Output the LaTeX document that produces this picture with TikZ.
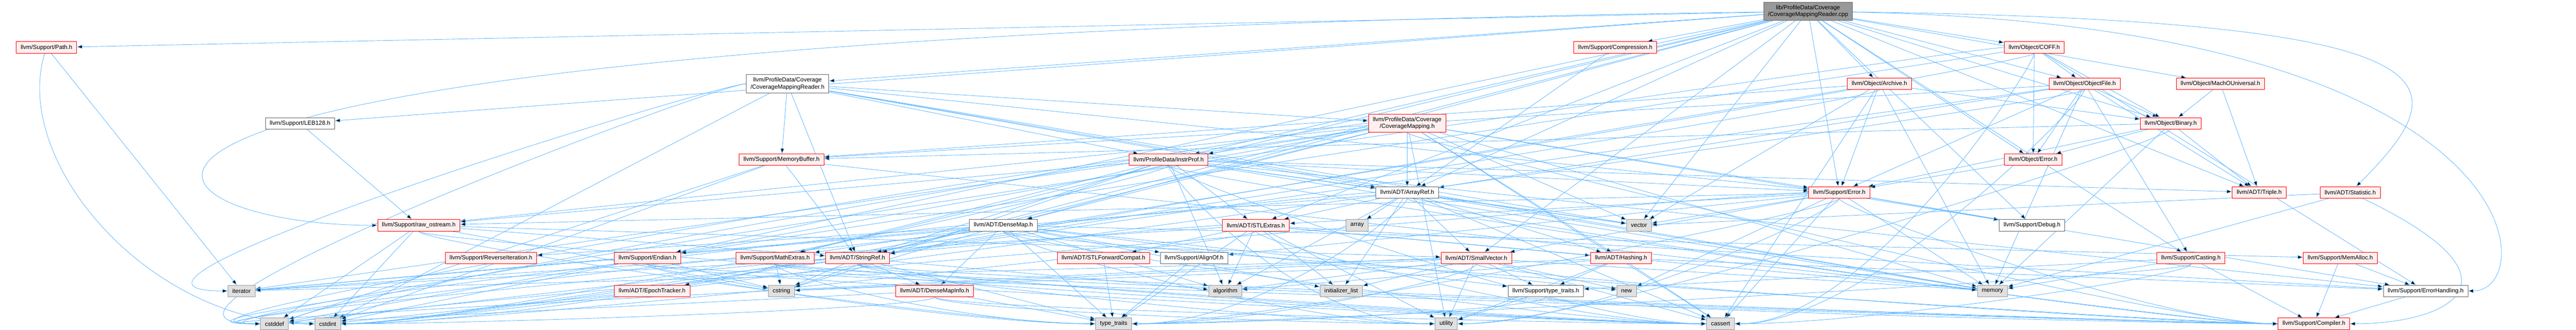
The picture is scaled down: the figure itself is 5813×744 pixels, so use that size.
\documentclass[tikz,border=0pt]{standalone}
\usepackage{fontspec}
\setmainfont{Liberation Sans}
\usetikzlibrary{arrows.meta,backgrounds}

\definecolor{edgeblue}{HTML}{63B8FF}
\definecolor{redfill}{HTML}{FFF0F0}
\definecolor{sysfill}{HTML}{E0E0E0}
\definecolor{sysline}{HTML}{999999}
\definecolor{plainline}{HTML}{666666}
\definecolor{topfill}{HTML}{999999}

\tikzset{
  file/.style={rectangle, inner xsep=7.4pt, inner ysep=2pt, minimum height=19.5pt,
    line width=0.75pt, font=\fontsize{10pt}{11.5pt}\selectfont, align=center},
  redbox/.style={file, draw=red, fill=redfill},
  plainbox/.style={file, draw=plainline, fill=white},
  sysbox/.style={file, draw=sysline, fill=sysfill},
  topbox/.style={file, draw=plainline, fill=topfill, minimum height=31pt},
  twoline/.style={minimum height=31pt},
  dep/.style={draw=edgeblue, line width=0.75pt, -{Stealth[length=9, width=6.5, inset=0]}},
  via/.style={to path={.. controls #1 .. (\tikztotarget)}},
  fromright/.style={via={+(0,40) and +(333,0)}},
  fromleft/.style={via={+(0,40) and +(-333,0)}},
  wrapleft/.style={via={+(-160,0) and +(-450,0)}}
}

\begin{document}
\begin{tikzpicture}[x=0.75pt, y=-0.75pt]
\useasboundingbox (0,0) rectangle (5813,744);

\node[topbox] (cmrcpp) at (4080,25.5) {lib/ProfileData/Coverage\\/CoverageMappingReader.cpp};

\node[redbox] (path) at (105,107) {llvm/Support/Path.h};
\node[redbox] (compression) at (3645,107) {llvm/Support/Compression.h};
\node[redbox] (coff) at (4590.5,107) {llvm/Object/COFF.h};

\node[plainbox, twoline] (cmrh) at (1777,189) {llvm/ProfileData/Coverage\\/CoverageMappingReader.h};
\node[redbox] (archive) at (4241,189) {llvm/Object/Archive.h};
\node[redbox] (objfile) at (4704,189) {llvm/Object/ObjectFile.h};
\node[redbox] (macho) at (5010.5,189) {llvm/Object/MachOUniversal.h};

\node[plainbox] (leb) at (677,278) {llvm/Support/LEB128.h};
\node[redbox, twoline] (cmh) at (3175.5,278) {llvm/ProfileData/Coverage\\/CoverageMapping.h};
\node[redbox] (binary) at (4898.5,278) {llvm/Object/Binary.h};

\node[redbox] (membuf) at (1763.5,360) {llvm/Support/MemoryBuffer.h};
\node[redbox] (instrprof) at (2637,360) {llvm/ProfileData/InstrProf.h};
\node[redbox] (objerror) at (4588,360) {llvm/Object/Error.h};

\node[plainbox] (arrayref) at (3175.5,434) {llvm/ADT/ArrayRef.h};
\node[redbox] (error) at (4150.5,434) {llvm/Support/Error.h};
\node[redbox] (triple) at (5098,434) {llvm/ADT/Triple.h};
\node[redbox] (statistic) at (5303.5,434) {llvm/ADT/Statistic.h};

\node[redbox] (rawos) at (945,508) {llvm/Support/raw\_ostream.h};
\node[plainbox] (densemap) at (2264,508) {llvm/ADT/DenseMap.h};
\node[redbox] (stlextras) at (2834,508) {llvm/ADT/STLExtras.h};
\node[sysbox] (array) at (3062.5,508) {array};
\node[sysbox] (vector) at (3698.5,508) {vector};
\node[plainbox] (debug) at (4585.5,508) {llvm/Support/Debug.h};

\node[redbox] (reviter) at (1108,582) {llvm/Support/ReverseIteration.h};
\node[redbox] (endian) at (1461,582) {llvm/Support/Endian.h};
\node[redbox] (mathext) at (1749,582) {llvm/Support/MathExtras.h};
\node[redbox] (stringref) at (1935,582) {llvm/ADT/StringRef.h};
\node[redbox] (stlfwd) at (2490,582) {llvm/ADT/STLForwardCompat.h};
\node[plainbox] (alignof) at (2694.5,582) {llvm/Support/AlignOf.h};
\node[redbox] (smallvec) at (3331.5,582) {llvm/ADT/SmallVector.h};
\node[redbox] (hashing) at (3658,582) {llvm/ADT/Hashing.h};
\node[redbox] (casting) at (4944,582) {llvm/Support/Casting.h};
\node[redbox] (memalloc) at (5281,582) {llvm/Support/MemAlloc.h};

\node[sysbox] (iterator) at (545,656) {iterator};
\node[redbox] (epoch) at (1471.5,656) {llvm/ADT/EpochTracker.h};
\node[sysbox] (cstring) at (1763.5,656) {cstring};
\node[redbox] (densemapinfo) at (2109,656) {llvm/ADT/DenseMapInfo.h};
\node[sysbox] (algorithm) at (2765,656) {algorithm};
\node[sysbox] (initlist) at (3026.5,656) {initializer\_list};
\node[plainbox] (supptt) at (3488,656) {llvm/Support/type\_traits.h};
\node[sysbox] (new) at (3670.5,656) {new};
\node[sysbox] (memory) at (4496,656) {memory};
\node[plainbox] (errhandling) at (5473.5,656) {llvm/Support/ErrorHandling.h};

\node[sysbox] (cstddef) at (619.5,730) {cstddef};
\node[sysbox] (cstdint) at (739.5,730) {cstdint};
\node[sysbox] (typetraits) at (2513,730) {type\_traits};
\node[sysbox] (utility) at (3263.5,730) {utility};
\node[sysbox] (cassert) at (3882.5,730) {cassert};
\node[redbox] (compiler) at (5221.5,730) {llvm/Support/Compiler.h};

\begin{scope}[on background layer]
\path[dep] (cmrcpp) edge (cmrh) edge (arrayref) edge (densemap) edge (stlextras)
  edge (smallvec) edge[via={+(1500,20) and +(250,-250)}] (statistic) edge (stringref)
  edge (triple) edge (archive) edge (binary) edge (coff) edge (objerror) edge (macho)
  edge (objfile) edge (instrprof) edge (casting) edge (compression) edge (debug)
  edge (endian) edge (error) edge[via={+(1650,30) and +(260,0)}] (errhandling)
  edge (leb) edge (mathext) edge (path)
  edge[via={+(-4300,60) and +(-700,0)}] (rawos) edge (vector);
\path[dep] (cmrh) edge (arrayref) edge (stringref) edge (cmh) edge (instrprof)
  edge (error) edge (membuf) edge[wrapleft] (cstddef) edge (cstdint)
  edge[wrapleft] (iterator) edge (memory) edge (vector);
\path[dep] (cmh) edge (arrayref) edge (densemap) edge (hashing) edge (stringref)
  edge (instrprof) edge[fromleft] (compiler) edge (debug) edge (endian) edge (error)
  edge (rawos) edge (cassert) edge[wrapleft] (cstdint) edge (iterator) edge (memory)
  edge (utility) edge (vector);
\path[dep] (instrprof) edge (arrayref) edge (stlextras) edge (stringref) edge (triple)
  edge[fromleft] (compiler) edge (error) edge (errhandling) edge (mathext) edge (rawos)
  edge (algorithm) edge[fromleft] (cassert) edge[wrapleft] (cstddef)
  edge[fromright] (cstdint) edge (cstring) edge (memory) edge[fromleft] (utility)
  edge (vector);
\path[dep] (membuf) edge (stringref) edge (cstddef) edge (cstdint) edge (memory);
\path[dep] (arrayref) edge (hashing) edge (smallvec) edge (stlextras)
  edge[fromleft] (compiler) edge (algorithm) edge (array) edge (cassert)
  edge[wrapleft] (cstddef) edge (initlist) edge (iterator) edge (memory)
  edge[fromright] (typetraits) edge (vector);
\path[dep] (error) edge (stlextras) edge (smallvec) edge (alignof) edge[fromleft] (compiler)
  edge (debug) edge (errhandling) edge (rawos) edge (cassert) edge[wrapleft] (cstdint)
  edge (memory) edge (new) edge[fromright] (typetraits) edge[fromright] (utility)
  edge (vector);
\path[dep] (rawos) edge (stringref) edge (smallvec) edge[fromleft] (cassert)
  edge (cstddef) edge (cstdint) edge (cstring) edge[fromleft] (typetraits);
\path[dep] (densemap) edge (densemapinfo) edge (epoch) edge (alignof)
  edge[fromleft] (compiler) edge (mathext) edge (memalloc) edge (reviter) edge (supptt)
  edge (algorithm) edge[fromleft] (cassert) edge[wrapleft] (cstddef) edge (cstring)
  edge (initlist) edge (iterator) edge (new) edge (typetraits) edge[fromleft] (utility);
\path[dep] (stlextras) edge (hashing) edge (stlfwd) edge (errhandling) edge (algorithm)
  edge[fromleft] (cassert) edge[wrapleft] (cstddef) edge[fromright] (cstdint)
  edge (initlist) edge (iterator) edge (memory) edge (typetraits) edge (utility);
\path[dep] (smallvec) edge[fromleft] (compiler) edge (supptt) edge (algorithm)
  edge (cassert) edge[wrapleft] (cstddef) edge (cstring) edge (initlist) edge (iterator)
  edge (memory) edge (new) edge[fromright] (typetraits) edge (utility);
\path[dep] (hashing) edge (errhandling) edge (supptt) edge (algorithm) edge (cassert)
  edge (cstring) edge (utility);
\path[dep] (stringref) edge (densemapinfo) edge[fromleft] (compiler) edge (algorithm)
  edge[fromleft] (cassert) edge (cstddef) edge (cstring) edge (iterator)
  edge (typetraits) edge[fromleft] (utility);
\path[dep] (densemapinfo) edge[fromleft] (cassert) edge (cstddef)
  edge[fromright] (cstdint) edge (typetraits) edge[fromleft] (utility);
\path[dep] (epoch) edge (cstdint);
\path[dep] (endian) edge[fromleft] (compiler) edge[fromleft] (cassert) edge (cstddef)
  edge (cstdint) edge (cstring) edge[fromleft] (typetraits);
\path[dep] (mathext) edge[fromleft] (compiler) edge[fromleft] (cassert)
  edge[fromright] (cstdint) edge (cstring) edge[fromleft] (typetraits);
\path[dep] (stlfwd) edge (typetraits);
\path[dep] (alignof) edge (typetraits);
\path[dep] (supptt) edge[fromleft] (compiler) edge[fromright] (typetraits) edge (utility);
\path[dep] (casting) edge (compiler) edge (supptt) edge[fromright] (cassert) edge (memory)
  edge[fromright] (typetraits);
\path[dep] (memalloc) edge (compiler) edge (errhandling);
\path[dep] (errhandling) edge (compiler);
\path[dep] (statistic) edge[via={+(420,200) and +(300,0)}] (compiler) edge (memory)
  edge (vector);
\path[dep] (leb) edge (rawos);
\path[dep] (path) edge (iterator) edge[via={+(-80,260) and +(-400,0)}] (cstdint);
\path[dep] (compression) edge (arrayref);
\path[dep] (binary) edge (triple) edge (objerror) edge (error) edge (membuf)
  edge (memory) edge[fromright] (utility);
\path[dep] (objerror) edge (error);
\path[dep] (archive) edge (stringref) edge (binary) edge (error) edge (membuf)
  edge (cassert) edge[fromright] (cstdint) edge (memory) edge (vector);
\path[dep] (objfile) edge (arrayref) edge (stringref) edge (triple) edge (binary)
  edge (objerror) edge (casting) edge (error) edge (membuf) edge[fromright] (cassert)
  edge[fromright] (cstdint) edge (memory);
\path[dep] (coff) edge (binary) edge (objerror) edge (objfile) edge (endian)
  edge (errhandling) edge[fromright] (cassert) edge[wrapleft] (cstddef)
  edge[fromright] (cstdint);
\path[dep] (macho) edge (triple) edge (binary);
\end{scope}
\end{tikzpicture}
\end{document}
